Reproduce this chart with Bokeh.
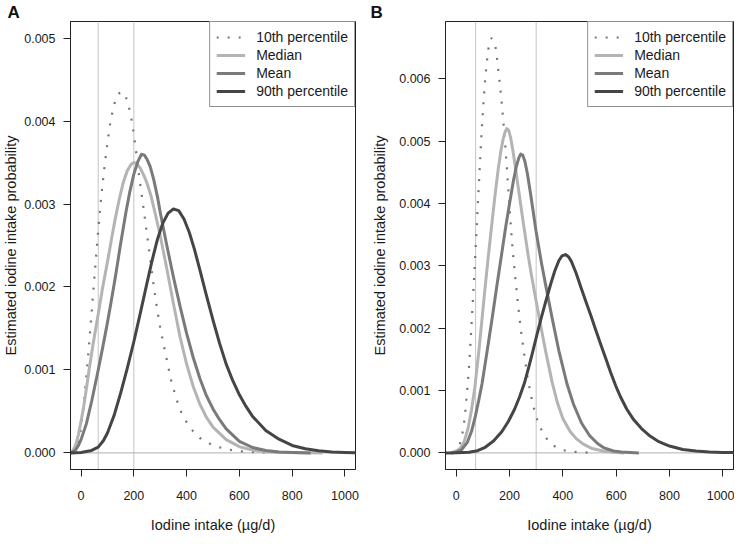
from bokeh.plotting import figure
from bokeh.models import Range1d, FixedTicker, Span, Legend, LegendItem
from bokeh.layouts import row
from bokeh.embed import file_html
from bokeh.resources import INLINE

# ---------------- data ----------------
X_TICKS = [0, 200, 400, 600, 800, 1000]
A_Y_TICKS = [0.0, 0.001, 0.002, 0.003, 0.004, 0.005]
A_Y_LABELS = ["0.000", "0.001", "0.002", "0.003", "0.004", "0.005"]
B_Y_TICKS = [0.0, 0.001, 0.002, 0.003, 0.004, 0.005, 0.006]
B_Y_LABELS = ["0.000", "0.001", "0.002", "0.003", "0.004", "0.005", "0.006"]
SERIES_NAMES = ["10th percentile", "Median", "Mean", "90th percentile"]
A_REF_LINES = [65, 200]
B_REF_LINES = [73, 300]

# Panel A
A_P10_X = [-25, -20, -15, -10, -5, 0, 10, 20, 30, 40, 50, 60, 70, 80, 90, 100, 110, 120, 130, 140, 150,
           160, 170, 180, 190, 200, 210, 220, 230, 240, 250, 260, 270, 280, 290, 300, 320, 340, 360, 380,
           400, 425, 450, 500, 550, 600, 650, 730]
A_P10_Y = [0.0, 0.00002, 0.00006, 0.00012, 0.0002, 0.0003, 0.00058, 0.00092, 0.00129, 0.00169, 0.00209,
           0.00249, 0.00287, 0.0032, 0.00348, 0.00374, 0.00396, 0.00413, 0.00425, 0.00432, 0.00435,
           0.004345, 0.00429, 0.00419, 0.00404, 0.00384, 0.0036, 0.00334, 0.00311, 0.00287, 0.00263,
           0.00239, 0.00214, 0.00191, 0.0017, 0.00151, 0.0012, 0.00089, 0.00066, 0.00049, 0.00037,
           0.00026, 0.00018, 0.00009, 0.000045, 0.00002, 0.00001, 0.0]
A_MED_X = [-40, -30, -20, -10, 0, 10, 20, 30, 45, 65, 80, 100, 115, 130, 145, 160, 175, 190, 200, 210,
           225, 240, 250, 265, 280, 300, 325, 350, 375, 400, 425, 450, 475, 500, 550, 600, 650, 700, 750,
           800, 915]
A_MED_Y = [0.0, 0.00003, 0.0001, 0.00022, 0.00038, 0.00056, 0.00077, 0.00099, 0.0013, 0.00167, 0.00196,
           0.0023, 0.00257, 0.00283, 0.00306, 0.00326, 0.0034, 0.00348, 0.0035, 0.00349, 0.00343,
           0.00333, 0.00325, 0.0031, 0.0029, 0.00262, 0.00222, 0.0018, 0.0014, 0.00107, 0.0008, 0.00059,
           0.00043, 0.00031, 0.00016, 0.000075, 0.000033, 0.000014, 0.000007, 0.000004, 0.0]
A_MEAN_X = [-40, -30, -20, -10, 0, 20, 40, 65, 85, 100, 115, 130, 150, 170, 185, 200, 215, 229, 240, 250,
            262, 275, 290, 300, 325, 350, 375, 400, 425, 450, 475, 500, 525, 550, 600, 650, 700, 750, 800,
            870]
A_MEAN_Y = [0.0, 0.000015, 0.00004, 0.00009, 0.00016, 0.00035, 0.00062, 0.001, 0.00132, 0.00157,
            0.00184, 0.00212, 0.00252, 0.0029, 0.00315, 0.00336, 0.00351, 0.0036, 0.00359, 0.00354,
            0.00345, 0.0033, 0.00308, 0.0029, 0.0025, 0.00212, 0.00177, 0.00144, 0.00115, 0.0009, 0.00069,
            0.00053, 0.0004, 0.00029, 0.00014, 0.000065, 0.000028, 0.000012, 0.000005, 0.0]
A_P90_X = [-40, 0, 40, 65, 85, 100, 125, 150, 175, 200, 225, 250, 270, 290, 310, 330, 350, 370, 390, 410,
           430, 450, 475, 500, 525, 550, 575, 600, 625, 650, 700, 750, 800, 850, 900, 950, 1000, 1040]
A_P90_Y = [0.0, 0.000005, 0.00003, 0.00007, 0.00015, 0.00024, 0.00045, 0.00072, 0.00102, 0.00134,
           0.00169, 0.00205, 0.00233, 0.00258, 0.00277, 0.00289, 0.00294, 0.00292, 0.00282, 0.00266,
           0.00245, 0.00221, 0.0019, 0.0016, 0.00132, 0.00107, 0.00087, 0.0007, 0.00056, 0.00044,
           0.00027, 0.000165, 0.00009, 0.00005, 0.000025, 0.000012, 0.000006, 0.000003]

# Panel B
B_P10_X = [-10, -3, 3, 9, 15, 21, 28, 33, 40, 47, 54, 61, 68, 74, 80, 86, 92, 98, 104, 110, 116, 121, 126,
           132, 138, 144, 149, 154, 158, 163, 167, 171, 174, 178, 184, 190, 195, 201, 207, 213, 218, 222,
           226, 234, 243, 254, 265, 279, 289, 299, 314, 333, 359, 393, 434, 474, 520]
B_P10_Y = [0.0, 0.00002, 0.00005, 0.00009, 0.00016, 0.00025, 0.00043, 0.0006, 0.00094, 0.00129, 0.00178,
           0.00232, 0.00286, 0.00336, 0.00388, 0.00438, 0.00488, 0.00532, 0.00572, 0.00605, 0.0063,
           0.00648, 0.00659, 0.00665, 0.00663, 0.00657, 0.00647, 0.0063, 0.00613, 0.00595, 0.00578,
           0.0056, 0.00545, 0.00526, 0.00493, 0.00458, 0.00425, 0.00388, 0.00352, 0.0032, 0.00298,
           0.0028, 0.00263, 0.0023, 0.00196, 0.00162, 0.00128, 0.00095, 0.00076, 0.00059, 0.00042,
           0.00026, 0.00013, 0.00005, 0.00002, 0.00001, 0.0]
B_MED_X = [-20, 0, 15, 30, 45, 58, 70, 85, 97, 109, 121, 134, 146, 158, 168, 176, 183, 190, 197, 204, 213,
           222, 232, 250, 268, 281, 299, 318, 336, 360, 380, 400, 428, 450, 477, 510, 550, 590, 630]
B_MED_Y = [0.0, 0.00003, 0.00007, 0.00018, 0.0004, 0.0007, 0.00105, 0.00163, 0.00215, 0.00267, 0.00317,
           0.00368, 0.00414, 0.00456, 0.00485, 0.00503, 0.00514, 0.0052, 0.00517, 0.00506, 0.00484,
           0.00458, 0.00428, 0.00374, 0.00322, 0.00288, 0.00245, 0.00202, 0.00162, 0.00113, 0.0008,
           0.00055, 0.00034, 0.00023, 0.00014, 0.00007, 0.00003, 0.00001, 0.0]
B_MEAN_X = [-20, 0, 20, 42, 58, 72, 85, 97, 115, 134, 152, 171, 186, 201, 215, 226, 235, 242, 250, 258,
            267, 281, 299, 320, 342, 360, 385, 416, 440, 470, 500, 530, 555, 590, 620, 685]
B_MEAN_Y = [0.0, 0.00001, 0.00005, 0.00017, 0.00035, 0.00059, 0.00085, 0.00111, 0.0016, 0.00213,
            0.00266, 0.0032, 0.00363, 0.00402, 0.00437, 0.0046, 0.00473, 0.00479, 0.00477, 0.00467,
            0.00448, 0.0041, 0.00357, 0.00304, 0.00255, 0.00216, 0.00164, 0.0011, 0.00078, 0.00048,
            0.00028, 0.00015, 0.00008, 0.00003, 0.000015, 0.0]
B_P90_X = [-40, 0, 48, 80, 109, 140, 171, 195, 219, 238, 256, 272, 287, 302, 318, 336, 354, 370, 385, 397,
           410, 422, 432, 450, 469, 487, 506, 525, 543, 562, 580, 598, 616, 640, 666, 695, 727, 760, 800,
           850, 899, 950, 1000, 1040]
B_P90_Y = [0.0, 0.000002, 0.00001, 0.000035, 0.00009, 0.00019, 0.00034, 0.0005, 0.0007, 0.0009, 0.00112,
           0.00137, 0.00162, 0.00188, 0.00215, 0.00243, 0.0027, 0.00292, 0.00308, 0.00316, 0.00318,
           0.00314, 0.00307, 0.00288, 0.00264, 0.00242, 0.00219, 0.00195, 0.00173, 0.0015, 0.00128,
           0.00108, 0.0009, 0.0007, 0.00053, 0.00039, 0.00027, 0.00018, 0.00011, 0.000055, 0.00003,
           0.000015, 0.000008, 0.000005]

# ---------------- styling ----------------
FONT = "Liberation Sans"
TXT = "#1a1a1a"
COLORS = ["#747474", "#b4b4b4", "#7a7a7a", "#454545"]
HEIGHT = 535


def panel(letter, series, yr, yticks, ylabels, ref_lines, width, left, right, ylab_standoff):
    p = figure(width=width, height=HEIGHT, x_range=Range1d(-40, 1040), y_range=Range1d(*yr),
               output_backend="svg", toolbar_location=None, title=letter,
               min_border_left=left, min_border_right=right, min_border_top=0, min_border_bottom=0)
    p.title.align = "left"
    p.title.offset = -(left - 3)
    p.title.text_font = FONT
    p.title.text_font_style = "bold"
    p.title.text_font_size = "17px"
    p.title.text_color = "#111111"
    p.title.standoff = 0

    p.xgrid.visible = False
    p.ygrid.visible = False
    p.outline_line_color = "#222222"
    p.outline_line_width = 1
    p.outline_line_alpha = 1.0

    for ax in (p.xaxis[0], p.yaxis[0]):
        ax.axis_line_color = "#222222"
        ax.major_tick_line_color = "#222222"
        ax.major_tick_out = 7
        ax.major_tick_in = 0
        ax.minor_tick_out = 0
        ax.minor_tick_in = 0
        ax.major_label_text_font = FONT
        ax.major_label_text_font_size = "12.5px"
        ax.major_label_text_color = TXT
        ax.axis_label_text_font = FONT
        ax.axis_label_text_font_size = "14.5px"
        ax.axis_label_text_font_style = "normal"
        ax.axis_label_text_color = TXT

    p.xaxis.ticker = FixedTicker(ticks=X_TICKS)
    p.xaxis.axis_label = "Iodine intake (µg/d)"
    p.xaxis.major_label_standoff = 14
    p.xaxis.axis_label_standoff = 14

    p.yaxis.ticker = FixedTicker(ticks=yticks)
    p.yaxis.major_label_overrides = {t: s for t, s in zip(yticks, ylabels)}
    p.yaxis.axis_label = "Estimated iodine intake probability"
    p.yaxis.major_label_standoff = 8
    p.yaxis.axis_label_standoff = ylab_standoff

    for loc in ref_lines:
        p.add_layout(Span(location=loc, dimension="height", line_color="#c4c4c4", line_width=1,
                          level="underlay"))
    p.add_layout(Span(location=0, dimension="width", line_color="#b0b0b0", line_width=1, level="underlay"))

    items = []
    for i, (name, (xs, ys)) in enumerate(zip(SERIES_NAMES, series)):
        if i == 0:
            r = p.line(xs, ys, line_color=COLORS[i], line_width=2.2, line_dash="2 9", line_cap="butt")
        else:
            r = p.line(xs, ys, line_color=COLORS[i], line_width=3, line_join="round")
        items.append(LegendItem(label=name, renderers=[r]))

    leg = Legend(items=items, location="top_right", margin=0, padding=6, spacing=0,
                 label_height=18, glyph_height=18, glyph_width=29, label_standoff=11,
                 label_text_font=FONT, label_text_font_size="14px", label_text_color=TXT,
                 border_line_color="#222222", border_line_width=1, background_fill_alpha=1.0)
    p.add_layout(leg)
    return p


pA = panel("A", [(A_P10_X, A_P10_Y), (A_MED_X, A_MED_Y), (A_MEAN_X, A_MEAN_Y), (A_P90_X, A_P90_Y)],
           (-0.0002, 0.0052), A_Y_TICKS, A_Y_LABELS, A_REF_LINES, 367, 66, 12, 2)
pB = panel("B", [(B_P10_X, B_P10_Y), (B_MED_X, B_MED_Y), (B_MEAN_X, B_MEAN_Y), (B_P90_X, B_P90_Y)],
           (-0.000266, 0.006916), B_Y_TICKS, B_Y_LABELS, B_REF_LINES, 367, 78, 1, 8)

layout = row(pA, pB)
open("out.html", "w").write(file_html(layout, INLINE))
